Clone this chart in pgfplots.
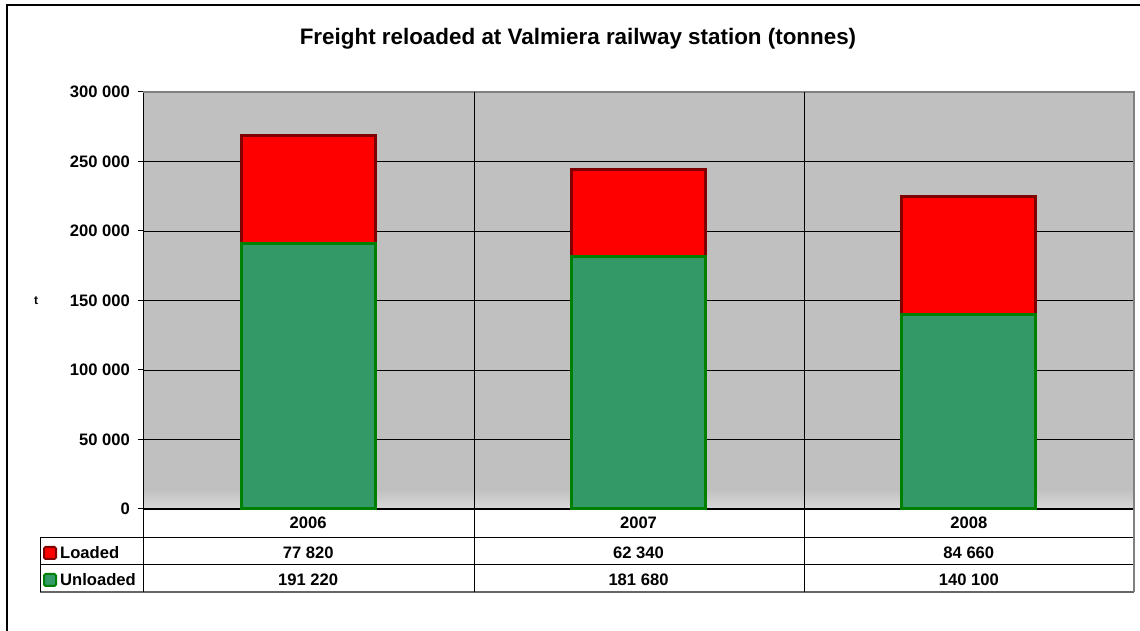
\documentclass[border=0pt]{standalone}
\usepackage{pgfplots}
\pgfplotsset{compat=1.18}
\usepackage{fontspec}
\setmainfont{Liberation Sans}
\definecolor{bgGray}{HTML}{C0C0C0}
\definecolor{bgLight}{HTML}{DADADA}
\definecolor{seaGreen}{HTML}{339966}
\definecolor{dkGreen}{HTML}{008000}
\definecolor{dkRed}{HTML}{800000}
\pgfdeclareverticalshading{bgshade}{100bp}{color(0bp)=(bgLight); color(25bp)=(bgLight); color(27.4bp)=(bgGray); color(100bp)=(bgGray)}
\newcommand{\tf}{\fontsize{16.6}{19}\selectfont\bfseries}
\begin{document}
\begin{tikzpicture}[x=1pt,y=1pt]
\useasboundingbox (0,0) rectangle (1140,631);
\draw[line width=1.5pt] (7,-10) -- (7,626) -- (1150,626);
\node[anchor=base, font=\fontsize{22.4}{26}\selectfont\bfseries] at (578,586) {Freight reloaded at Valmiera railway station (tonnes)};
\node[font=\fontsize{12}{14}\selectfont\bfseries] at (36,330) {t};
\begin{axis}[at={(143pt,122pt)}, anchor=south west, width=991pt, height=417pt, scale only axis,
  ybar stacked, bar width=134pt,
  xmin=-0.5, xmax=2.5, ymin=0, ymax=300000,
  xtick=\empty,
  ytick={0,50000,100000,150000,200000,250000,300000},
  yticklabels={0,50 000,100 000,150 000,200 000,250 000,300 000},
  scaled y ticks=false,
  ymajorgrids, major grid style={black, line width=0.8pt},
  axis x line*=bottom, axis y line*=left,
  axis line style={black, line width=1pt, -},
  tick align=outside, major tick length=5pt, tick style={black, line width=1pt},
  yticklabel style={font=\tf, inner sep=0pt, xshift=-8pt},
  axis background/.style={shading=bgshade},
  clip=false,
]
\addplot[fill=seaGreen, draw=dkGreen, line width=3pt] coordinates {(0,191220) (1,181680) (2,140100)};
\addplot[fill=red, draw=dkRed, line width=3pt] coordinates {(0,77820) (1,62340) (2,84660)};
\draw[gray, line width=1.5pt] (rel axis cs:0,1) -- (rel axis cs:1,1) -- (rel axis cs:1,0);
\node[anchor=base, font=\tf, yshift=-20pt] at (axis cs:0,0) {2006};
\node[anchor=base, font=\tf, yshift=-20pt] at (axis cs:1,0) {2007};
\node[anchor=base, font=\tf, yshift=-20pt] at (axis cs:2,0) {2008};
\node[anchor=base, font=\tf, yshift=-50pt] at (axis cs:0,0) {77 820};
\node[anchor=base, font=\tf, yshift=-50pt] at (axis cs:1,0) {62 340};
\node[anchor=base, font=\tf, yshift=-50pt] at (axis cs:2,0) {84 660};
\node[anchor=base, font=\tf, yshift=-77pt] at (axis cs:0,0) {191 220};
\node[anchor=base, font=\tf, yshift=-77pt] at (axis cs:1,0) {181 680};
\node[anchor=base, font=\tf, yshift=-77pt] at (axis cs:2,0) {140 100};
\end{axis}
% table grid
\draw[black, line width=1pt] (40,93) -- (1134,93);
\draw[black, line width=1pt] (40,66) -- (1134,66);
\draw[black!60, line width=1.5pt] (40,39) -- (1134,39);
\draw[black, line width=1pt] (40,93) -- (40,39);
\draw[black, line width=1pt] (143,122) -- (143,39);
\draw[black, line width=1pt] (474,539) -- (474,39);
\draw[black, line width=1pt] (804,539) -- (804,39);
\draw[gray, line width=1.5pt] (1134,122) -- (1134,39);
% legend keys
\draw[dkRed, fill=red, line width=2pt, rounded corners=1.5pt] (44,72) rectangle (56,84);
\draw[dkGreen, fill=seaGreen, line width=2pt, rounded corners=1.5pt] (44,45) rectangle (56,57);
\node[anchor=base west, font=\tf, inner sep=0pt] at (60,72) {Loaded};
\node[anchor=base west, font=\tf, inner sep=0pt] at (60,45) {Unloaded};
\end{tikzpicture}
\end{document}
